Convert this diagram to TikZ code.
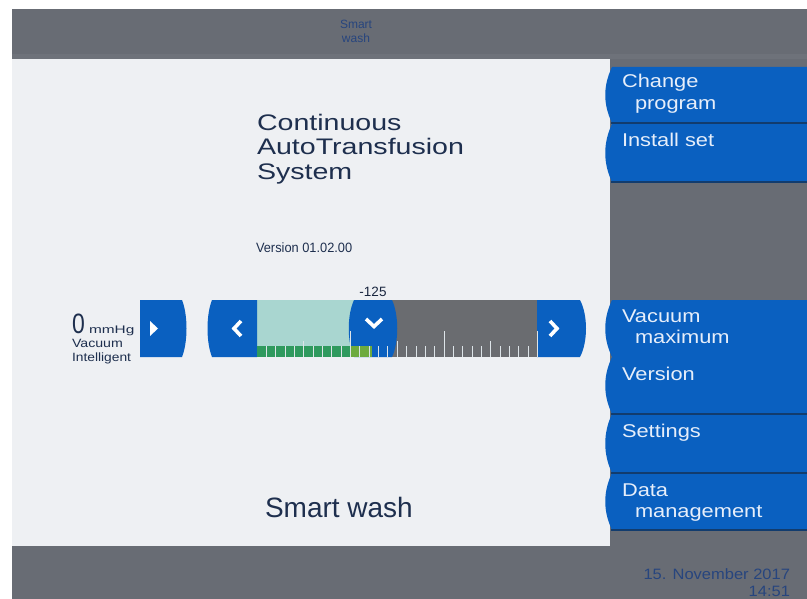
\documentclass[tikz,border=0pt]{standalone}
\usepackage{fontspec}
\setmainfont{Liberation Sans}
\definecolor{bargray}{HTML}{686C74}
\definecolor{panel}{HTML}{EEF0F3}
\definecolor{btnblue}{HTML}{0A60C0}
\definecolor{btnline}{HTML}{123C6E}
\definecolor{btntxt}{HTML}{E6EEFA}
\definecolor{navy}{HTML}{1E2F4E}
\definecolor{bartxt}{HTML}{27457E}
\definecolor{tealfill}{HTML}{A9D6D0}
\definecolor{dgreen}{HTML}{2F9A5E}
\definecolor{lgreen}{HTML}{6DAA3E}
\definecolor{slgray}{HTML}{6A6C70}
\definecolor{tickc}{HTML}{DDE4E8}
\begin{document}
\begin{tikzpicture}[x=1pt,y=-1pt,
  txt/.style={anchor=base west, inner sep=0pt, outer sep=0pt},
  btxt/.style={txt, text=btntxt, font=\fontsize{18.5}{20}\selectfont, xscale=1.18},
  ttl/.style={txt, text=navy, font=\fontsize{22.5}{24}\selectfont, xscale=1.27},
  bartext/.style={inner sep=0pt, outer sep=0pt, text=bartxt},
  chev/.style={draw=white, line width=3.6pt, line join=miter, line cap=butt},
  divline/.style={draw=btnline, line width=1.6pt}]
\useasboundingbox (0,0) rectangle (807,599);
\fill[white] (0,0) rectangle (807,599);
% frame areas
\fill[bargray] (12,9) rectangle (807,59);
\fill[bargray!96!white] (12,54) rectangle (807,59);
\fill[panel] (12,59) rectangle (610,546);
\fill[bargray] (610,59) rectangle (807,546);
\fill[bargray] (12,546) rectangle (807,599);
% top bar title
\node[bartext, anchor=base, font=\fontsize{12}{13}\selectfont] (topa) at (356,29) {Smart};
\node[bartext, anchor=base, font=\fontsize{12}{13}\selectfont] (topb) at (356,43) {wash};
% date / time
\node[bartext, anchor=base east, font=\fontsize{15}{16}\selectfont, xscale=1.1] (date) at (790,579) {15. November 2017};
\node[bartext, anchor=base east, font=\fontsize{15}{16}\selectfont, xscale=1.1] (time) at (790,596) {14:51};
% right buttons
\foreach \t/\b in {67/123,124/182,300/357,357/414,414/473,473/530} {
  \fill[btnblue] (612,\t) .. controls (603,\t+19) and (603,\b-19) .. (612,\b) -- (807,\b) -- (807,\t) -- cycle;
}
\foreach \y in {123,182,414,473,530} {
  \draw[divline] (611,\y) -- (807,\y);
}
\node[btxt] (b1a) at (622,88) {Change};
\node[btxt] (b1b) at (635,110) {program};
\node[btxt] (b2) at (622,147) {Install set};
\node[btxt] (b3a) at (622,322) {Vacuum};
\node[btxt] (b3b) at (635,343) {maximum};
\node[btxt] (b4) at (622,380) {Version};
\node[btxt] (b5) at (622,437) {Settings};
\node[btxt] (b6a) at (622,496) {Data};
\node[btxt] (b6b) at (635,517) {management};
% title texts
\node[ttl] (t1) at (257,131) {Continuous};
\node[ttl] (t2) at (257,155) {AutoTransfusion};
\node[ttl] (t3) at (257,180) {System};
\node[txt, text=navy, font=\fontsize{13.5}{15}\selectfont, xscale=0.95] (ver) at (256,253) {Version 01.02.00};
\node[txt, text=navy, font=\fontsize{28}{30}\selectfont] (sw) at (265,517) {Smart wash};
% left readout
\node[txt, text=navy, font=\fontsize{28}{29}\selectfont, xscale=0.82] (zero) at (72,334) {0};
\node[txt, text=navy, font=\fontsize{11}{12}\selectfont, xscale=1.4] (mmhg) at (89,334) {mmHg};
\node[txt, text=navy, font=\fontsize{12}{13}\selectfont, xscale=1.18] (vac) at (72,348) {Vacuum};
\node[txt, text=navy, font=\fontsize{12}{13}\selectfont, xscale=1.15] (intel) at (72,361) {Intelligent};
% left button
\fill[btnblue] (140,300) -- (182,300) .. controls (188,315) and (188,342) .. (182,357) -- (140,357) -- cycle;
\fill[white] (150,321) -- (158,328.5) -- (150,336) -- cycle;
% slider background
\fill[tealfill] (257,300) rectangle (360,357);
\fill[slgray] (390,300) rectangle (540,357);
% slider buttons
\fill[btnblue] (257,300) -- (212,300) .. controls (206,315) and (206,342) .. (212,357) -- (257,357) -- cycle;
\draw[chev] (241,321) -- (234,328.5) -- (241,336);
\fill[btnblue] (354,300) -- (392,300) .. controls (399,315) and (399,342) .. (392,357) -- (354,357) .. controls (347,342) and (347,315) .. (354,300) -- cycle;
\draw[chev] (366,319) -- (374,326.5) -- (382,319);
\fill[btnblue] (537,300) -- (580,300) .. controls (588,315) and (588,342) .. (580,357) -- (537,357) -- cycle;
\draw[chev] (550,321) -- (557,328.5) -- (550,336);
% green level bar
\fill[dgreen] (257,346) rectangle (350,357);
\fill[lgreen] (350,346) rectangle (372,357);
% scale ticks
\foreach \k in {1,...,30} {
  \pgfmathsetmacro\xx{257+\k*9.35}
  \pgfmathsetmacro\yy{ifthenelse(mod(\k,10)==0,331,ifthenelse(mod(\k,5)==0,341,346))}
  \draw[tickc, line width=0.9pt] (\xx,\yy) -- (\xx,357);
}
\node[anchor=base, inner sep=0pt, text=navy!80!black, font=\fontsize{13.5}{14}\selectfont] (lvl) at (373,296) {-125};
\end{tikzpicture}
\end{document}
